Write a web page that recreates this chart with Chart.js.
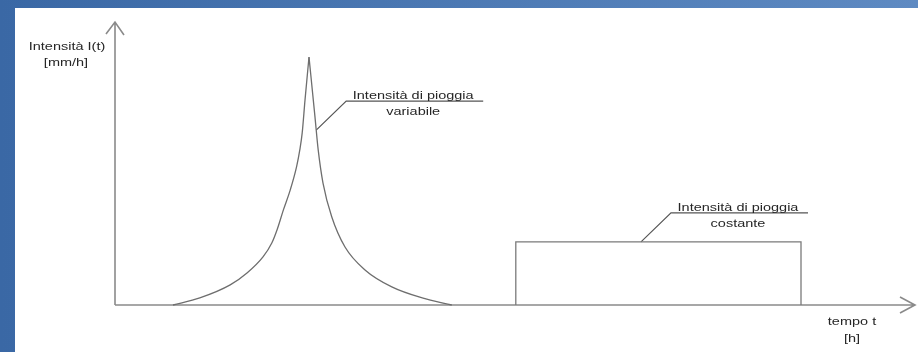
<!DOCTYPE html>
<html>
<head>
<meta charset="utf-8">
<script src="https://cdn.jsdelivr.net/npm/chart.js@4"></script>
<style>
  html, body { margin: 0; padding: 0; }
  body {
    width: 918px; height: 352px; overflow: hidden; position: relative;
    background: linear-gradient(to right, #3a68a5, #5e8ac2);
  }
  #panel { position: absolute; left: 15px; top: 8px; width: 903px; height: 344px; background: #fff; }
  canvas { display: block; }
</style>
</head>
<body>
<div id="panel"><canvas id="chart" width="903" height="344"></canvas></div>
<script>
// time t [h] and intensity I(t) [mm/h], arbitrary units
const variableRiseT = [7.25, 10.6, 14.4, 16.5, 18.5, 19.6, 20.25, 21.05, 21.9, 22.7, 23.1, 23.4, 23.75, 24.25];
const variableRiseI = [0, 2.5, 7.1, 11.3, 17.0, 21.9, 26.5, 33.6, 40.6, 48.9, 54.8, 60.8, 72.4, 87.6];
const variableFallT = [24.25, 25, 25.4, 26, 27.1, 28.75, 31.25, 34.6, 38.4, 42.1];
const variableFallI = [87.6, 66.4, 54.8, 43.1, 31.1, 20.5, 12.4, 6.4, 2.5, 0];
const constantT = [50.1, 50.1, 85.75, 85.75];
const constantI = [0, 22.3, 22.3, 0];

const axisMax = { t: 100, i: 100 };
const yTitle = ['Intensità I(t)', '[mm/h]'];
const xTitle = ['tempo t', '[h]'];
const annotations = [
    { t: 25.15, i: 61.8, lines: ['Intensità di pioggia', 'variabile'] },
    { t: 65.75, i: 22.3, lines: ['Intensità di pioggia', 'costante'] }
];

const toPoints = (xs, ys) => xs.map((x, k) => ({ x: x, y: ys[k] }));

function stretchedText(ctx, text, x, y) {
    // the original lettering is a bit wide, so stretch it horizontally
    ctx.save();
    ctx.translate(x, y);
    ctx.scale(1.26, 1);
    ctx.fillText(text, 0, 0);
    ctx.restore();
}

const drawingPlugin = {
    id: 'drawing',
    beforeDatasetsDraw(chart) {
        const ctx = chart.ctx;
        const xs = chart.scales.x, ys = chart.scales.y;
        const x0 = xs.getPixelForValue(0), y0 = ys.getPixelForValue(0);
        const xEnd = xs.getPixelForValue(axisMax.t), yEnd = ys.getPixelForValue(axisMax.i);

        ctx.save();
        ctx.strokeStyle = '#8a8a8a';
        ctx.lineWidth = 1.6;
        ctx.beginPath();
        ctx.moveTo(x0, y0); ctx.lineTo(x0, yEnd);
        ctx.moveTo(x0, y0); ctx.lineTo(xEnd, y0);
        // arrow heads
        ctx.moveTo(x0 - 9, yEnd + 12); ctx.lineTo(x0, yEnd); ctx.lineTo(x0 + 9, yEnd + 13);
        ctx.moveTo(xEnd - 15, y0 - 8); ctx.lineTo(xEnd, y0); ctx.lineTo(xEnd - 15, y0 + 8);
        ctx.stroke();

        ctx.fillStyle = '#262626';
        ctx.font = '11.5px "Liberation Sans", Arial, sans-serif';
        ctx.textAlign = 'center';
        ctx.textBaseline = 'alphabetic';
        stretchedText(ctx, yTitle[0], x0 - 48, yEnd + 28);
        stretchedText(ctx, yTitle[1], x0 - 49, yEnd + 44);
        stretchedText(ctx, xTitle[0], xEnd - 63, y0 + 20);
        stretchedText(ctx, xTitle[1], xEnd - 63, y0 + 37);

        // leader lines and callout text
        annotations.forEach(a => {
            const ax = xs.getPixelForValue(a.t), ay = ys.getPixelForValue(a.i);
            const ex = ax + 30, ey = ay - 29;
            ctx.strokeStyle = '#555';
            ctx.lineWidth = 1.2;
            ctx.beginPath();
            ctx.moveTo(ax, ay); ctx.lineTo(ex, ey); ctx.lineTo(ex + 137, ey);
            ctx.stroke();
            stretchedText(ctx, a.lines[0], ex + 67, ey - 2);
            stretchedText(ctx, a.lines[1], ex + 67, ey + 14);
        });
        ctx.restore();
    }
};

const lineStyle = {
    showLine: true,
    borderColor: '#6e6e6e',
    borderWidth: 1.3,
    pointRadius: 0,
    clip: false
};

new Chart(document.getElementById('chart'), {
    type: 'scatter',
    data: {
        datasets: [
            { ...lineStyle, label: 'variabile salita', data: toPoints(variableRiseT, variableRiseI), cubicInterpolationMode: 'monotone' },
            { ...lineStyle, label: 'variabile discesa', data: toPoints(variableFallT, variableFallI), cubicInterpolationMode: 'monotone' },
            { ...lineStyle, label: 'costante', data: toPoints(constantT, constantI), tension: 0, borderColor: '#7a7a7a' }
        ]
    },
    options: {
        responsive: false,
        animation: false,
        devicePixelRatio: 1,
        layout: { padding: { left: 100, right: 3, top: 14, bottom: 47 } },
        scales: {
            x: { type: 'linear', min: 0, max: axisMax.t, display: false },
            y: { type: 'linear', min: 0, max: axisMax.i, display: false }
        },
        plugins: {
            legend: { display: false },
            tooltip: { enabled: false }
        }
    },
    plugins: [drawingPlugin]
});
</script>
</body>
</html>
